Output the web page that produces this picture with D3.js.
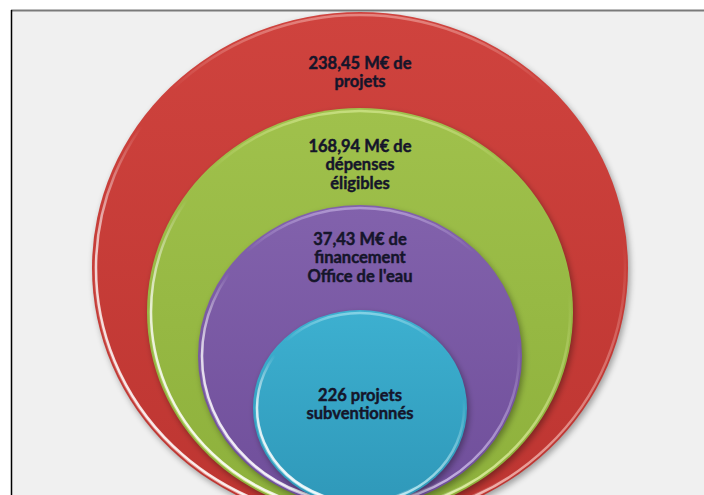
<!DOCTYPE html>
<html>
<head>
<meta charset="utf-8">
<script src="https://cdn.jsdelivr.net/npm/d3@7"></script>
<style>
  body { margin: 0; background: #fff; }
  svg { display: block; }
</style>
</head>
<body>
<div id="chart"></div>
<script>

// nested levels, outermost first
const levels = ["projets", "depenses", "financement", "subventions"];
const values = [238.45, 168.94, 37.43, 226];
const labels = [
	["238,45 M€ de", "projets"],
	["168,94 M€ de", "dépenses", "éligibles"],
	["37,43 M€ de", "financement", "Office de l'eau"],
	["226 projets", "subventionnés"]
];

// glossy palette: [top, bottom, rim]
const palette = [
	["#cf433e", "#bd3531", "#ffd6d0"],
	["#a0c14c", "#8db03b", "#f2ffb8"],
	["#8262ac", "#6f4e9a", "#e6d8ff"],
	["#3db0d0", "#2f98b9", "#d8fbff"]
];

const width = 704, height = 495;
const cx = 360;

const svg = d3.select("#chart").append("svg")
	.attr("width", width)
	.attr("height", height);

// frame
svg.append("rect")
	.attr("x", 11).attr("y", 10)
	.attr("width", width - 11).attr("height", height - 10)
	.attr("fill", "#f0f0f0");
svg.append("line")
	.attr("x1", 11).attr("x2", width).attr("y1", 10.5).attr("y2", 10.5)
	.attr("stroke", "#7a7a7a").attr("stroke-width", 2);
svg.append("line")
	.attr("x1", 11.5).attr("x2", 11.5).attr("y1", 10).attr("y2", height)
	.attr("stroke", "#000").attr("stroke-width", 1.5);

// layout scales, by nesting level
const idx = d3.scaleOrdinal().domain(levels).range(d3.range(levels.length));
const rx = d3.scaleLinear().domain([0, 1, 2, 3]).range([268, 213, 162, 107]);
const ry = d3.scaleLinear().domain([0, 1, 2, 3]).range([256, 204, 151, 98]);
const topY = d3.scaleLinear().domain([0, 1, 2, 3]).range([12, 108, 205, 310]);
const textY = d3.scaleLinear().domain([0, 1, 2, 3]).range([72, 164, 257, 404]);

const defs = svg.append("defs");

const shadow = defs.append("filter").attr("id", "shadow")
	.attr("x", "-10%").attr("y", "-10%").attr("width", "120%").attr("height", "120%");
shadow.append("feGaussianBlur").attr("in", "SourceAlpha").attr("stdDeviation", 3);
shadow.append("feOffset").attr("dx", 2).attr("dy", 3).attr("result", "off");
shadow.append("feComponentTransfer").append("feFuncA").attr("type", "linear").attr("slope", 0.35);

levels.forEach(function(d, i) {
	let g = defs.append("linearGradient").attr("id", "fill" + i)
		.attr("x1", 0).attr("y1", 0).attr("x2", 0).attr("y2", 1);
	g.append("stop").attr("offset", 0).attr("stop-color", palette[i][0]);
	g.append("stop").attr("offset", 1).attr("stop-color", palette[i][1]);

	// bright rim on the lower left
	let r = defs.append("linearGradient").attr("id", "rim" + i)
		.attr("x1", 0.05).attr("y1", 0.95).attr("x2", 0.75).attr("y2", 0.25);
	r.append("stop").attr("offset", 0).attr("stop-color", "#fff").attr("stop-opacity", 0.95);
	r.append("stop").attr("offset", 0.3).attr("stop-color", "#fff").attr("stop-opacity", 0.75);
	r.append("stop").attr("offset", 0.55).attr("stop-color", "#fff").attr("stop-opacity", 0);

	// soft rim all round the lower half
	let s = defs.append("linearGradient").attr("id", "soft" + i)
		.attr("x1", 0).attr("y1", 0).attr("x2", 0).attr("y2", 1);
	s.append("stop").attr("offset", 0).attr("stop-color", palette[i][2]).attr("stop-opacity", 0.45);
	s.append("stop").attr("offset", 0.15).attr("stop-color", palette[i][2]).attr("stop-opacity", 0);
	s.append("stop").attr("offset", 0.45).attr("stop-color", palette[i][2]).attr("stop-opacity", 0);
	s.append("stop").attr("offset", 1).attr("stop-color", palette[i][2]).attr("stop-opacity", 0.8);
});

const rings = svg.selectAll("g.ring")
	.data(levels)
	.join("g")
	.attr("class", "ring");

rings.append("ellipse")
	.attr("cx", cx)
	.attr("cy", d => topY(idx(d)) + ry(idx(d)))
	.attr("rx", d => rx(idx(d)))
	.attr("ry", d => ry(idx(d)))
	.attr("fill", "#000")
	.attr("filter", "url(#shadow)");

rings.append("ellipse")
	.attr("cx", cx)
	.attr("cy", d => topY(idx(d)) + ry(idx(d)))
	.attr("rx", d => rx(idx(d)))
	.attr("ry", d => ry(idx(d)))
	.attr("fill", d => "url(#fill" + idx(d) + ")");

rings.append("ellipse")
	.attr("cx", cx)
	.attr("cy", d => topY(idx(d)) + ry(idx(d)))
	.attr("rx", d => rx(idx(d)) - 3)
	.attr("ry", d => ry(idx(d)) - 3)
	.attr("fill", "none")
	.attr("stroke", d => "url(#soft" + idx(d) + ")")
	.attr("stroke-width", 2.5);

rings.append("ellipse")
	.attr("cx", cx)
	.attr("cy", d => topY(idx(d)) + ry(idx(d)))
	.attr("rx", d => rx(idx(d)) - 4)
	.attr("ry", d => ry(idx(d)) - 4)
	.attr("fill", "none")
	.attr("stroke", d => "url(#rim" + idx(d) + ")")
	.attr("stroke-width", 2.5);

// labels
const lineH = 18.5;
rings.append("text")
	.attr("text-anchor", "middle")
	.attr("font-family", "Lato, 'Open Sans', sans-serif")
	.attr("font-weight", "bold")
	.attr("font-size", "16.5px")
	.attr("fill", "#15152a")
	.attr("stroke", "#15152a")
	.attr("stroke-width", 0.45)
	.each(function(d) {
		let i = idx(d);
		let lines = labels[i];
		let y0 = textY(i) - (lines.length - 1) * lineH / 2 + 6;
		d3.select(this).selectAll("tspan")
			.data(lines)
			.join("tspan")
			.attr("x", cx)
			.attr("y", (t, j) => y0 + j * lineH)
			.text(t => t);
	});

</script>
</body>
</html>
